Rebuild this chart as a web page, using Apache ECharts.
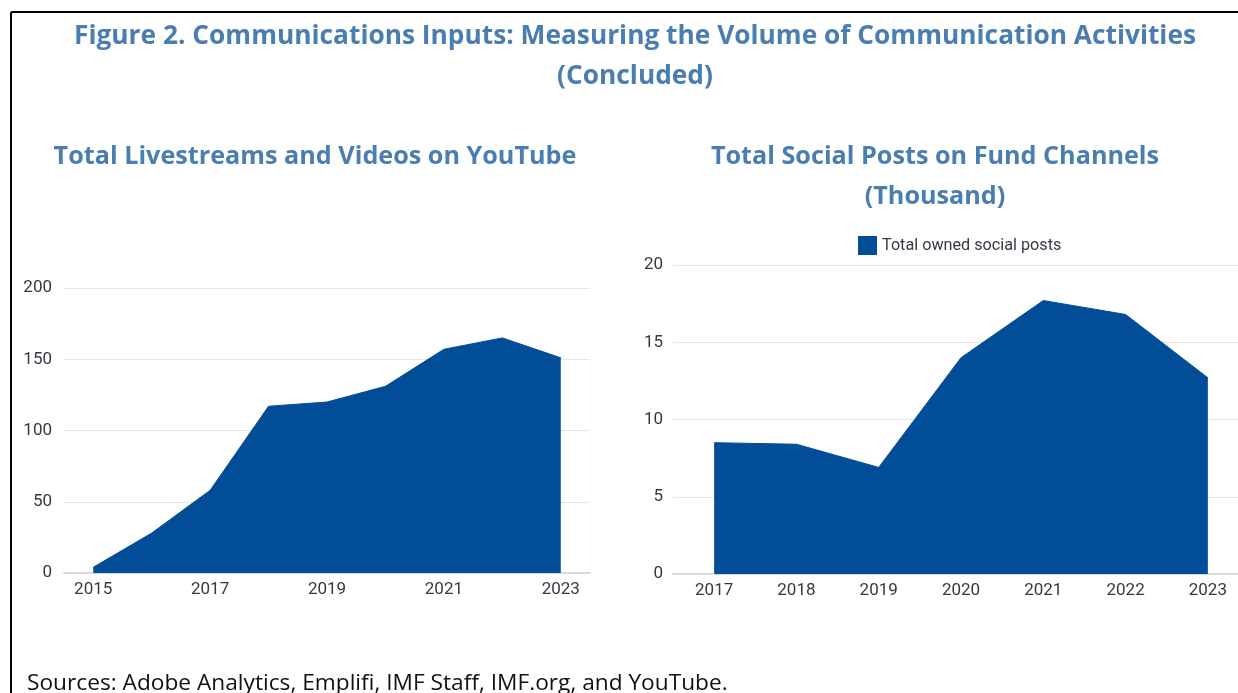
<!DOCTYPE html>
<html>
<head>
<meta charset="utf-8">
<script src="https://cdn.jsdelivr.net/npm/echarts@6/dist/echarts.min.js"></script>
<style>
html,body{margin:0;padding:0;background:#fff;}
#main{width:1238px;height:693px;}
</style>
</head>
<body>
<div id="main"></div>
<script>
// Left panel: Total Livestreams and Videos on YouTube
const yearsLeft = ['2015','2016','2017','2018','2019','2020','2021','2022','2023'];
const livestreamsVideos = [4, 28, 58, 117, 120, 131, 157, 165, 151];
const leftTicks = [0, 50, 100, 150, 200];

// Right panel: Total Social Posts on Fund Channels (Thousand)
const yearsRight = ['2017','2018','2019','2020','2021','2022','2023'];
const ownedSocialPosts = [8.5, 8.4, 6.9, 14.0, 17.7, 16.8, 12.7];
const rightTicks = [0, 5, 10, 15, 20];

const titleColor = '#4a7eb0';
const areaColor = '#024d97';
const labelColor = '#343a44';
const labelFont = 'Roboto';

const chart = echarts.init(document.getElementById('main'));
chart.setOption({
  animation: false,
  backgroundColor: '#fff',
  title: [
    {text: 'Figure 2. Communications Inputs: Measuring the Volume of Communication Activities\n(Concluded)',
     left: 630, top: 12, textAlign: 'center',
     textStyle: {fontFamily: 'Open Sans', fontWeight: 'bold', fontSize: 26.3, color: titleColor, lineHeight: 40}},
    {text: 'Total Livestreams and Videos on YouTube',
     left: 310, top: 132, textAlign: 'center',
     textStyle: {fontFamily: 'Open Sans', fontWeight: 'bold', fontSize: 25.2, color: titleColor, lineHeight: 40}},
    {text: 'Total Social Posts on Fund Channels\n(Thousand)',
     left: 930, top: 132, textAlign: 'center',
     textStyle: {fontFamily: 'Open Sans', fontWeight: 'bold', fontSize: 25.2, color: titleColor, lineHeight: 40}},
    {text: 'Sources: Adobe Analytics, Emplifi, IMF Staff, IMF.org, and YouTube.',
     left: 22, top: 667,
     textStyle: {fontFamily: 'Open Sans', fontWeight: 'normal', fontSize: 22.7, color: '#111'}}
  ],
  graphic: [
    {type: 'line', shape: {x1: 11, y1: 12, x2: 1238, y2: 12}, style: {stroke: '#000', lineWidth: 2}},
    {type: 'line', shape: {x1: 11, y1: 12, x2: 11, y2: 693}, style: {stroke: '#000', lineWidth: 2}}
  ],
  legend: {
    show: true,
    data: ['Total owned social posts'],
    left: 853, top: 231,
    itemWidth: 19, itemHeight: 19, itemGap: 6,
    icon: 'rect',
    textStyle: {fontFamily: labelFont, fontSize: 16.2, color: labelColor}
  },
  grid: [
    {left: 64, top: 288, width: 526, height: 285, outerBoundsMode: 'none'},
    {left: 673, top: 265, width: 576, height: 309, outerBoundsMode: 'none'}
  ],
  xAxis: [
    {type: 'category', gridIndex: 0, data: yearsLeft, boundaryGap: true,
     axisLine: {lineStyle: {color: '#d9d9d9', width: 2}},
     axisTick: {show: false},
     axisLabel: {interval: 1, color: labelColor, fontFamily: labelFont, fontSize: 17, margin: 8}},
    {type: 'category', gridIndex: 1, data: yearsRight, boundaryGap: true,
     axisLine: {lineStyle: {color: '#d9d9d9', width: 2}},
     axisTick: {show: false},
     axisLabel: {interval: 0, color: labelColor, fontFamily: labelFont, fontSize: 17, margin: 8}}
  ],
  yAxis: [
    {type: 'value', gridIndex: 0, min: leftTicks[0], max: leftTicks[leftTicks.length-1], interval: 50,
     axisLine: {show: false}, axisTick: {show: false},
     splitLine: {lineStyle: {color: '#e6e6e6', width: 1}},
     axisLabel: {color: labelColor, fontFamily: labelFont, fontSize: 17, margin: 12}},
    {type: 'value', gridIndex: 1, min: rightTicks[0], max: rightTicks[rightTicks.length-1], interval: 5,
     axisLine: {show: false}, axisTick: {show: false},
     splitLine: {lineStyle: {color: '#e6e6e6', width: 1}},
     axisLabel: {color: labelColor, fontFamily: labelFont, fontSize: 17, margin: 10}}
  ],
  series: [
    {name: 'Total livestreams and videos', type: 'line', xAxisIndex: 0, yAxisIndex: 0,
     data: livestreamsVideos, showSymbol: false, symbol: 'none',
     lineStyle: {color: areaColor, width: 1},
     itemStyle: {color: areaColor},
     areaStyle: {color: areaColor, opacity: 1}},
    {name: 'Total owned social posts', type: 'line', xAxisIndex: 1, yAxisIndex: 1,
     data: ownedSocialPosts, showSymbol: false, symbol: 'none',
     lineStyle: {color: areaColor, width: 1},
     itemStyle: {color: areaColor},
     areaStyle: {color: areaColor, opacity: 1}}
  ]
});
</script>
</body>
</html>
